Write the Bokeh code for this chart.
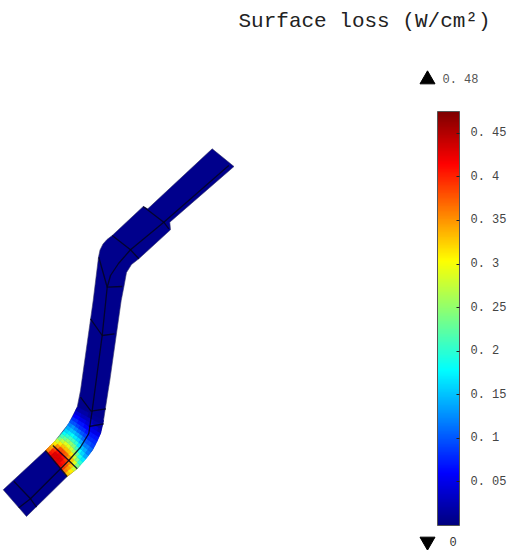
import numpy as np
from bokeh.embed import file_html
from bokeh.resources import INLINE
from bokeh.plotting import figure
from bokeh.models import ColorBar, LinearColorMapper, FixedTicker, ColumnDataSource, Range1d
from bokeh.core.properties import value
from bokeh.transform import transform

title_text = "Surface loss (W/cm\u00b2)"
tick_values = [0.05, 0.1, 0.15, 0.2, 0.25, 0.3, 0.35, 0.4, 0.45]
tick_labels = ["0. 05", "0. 1", "0. 15", "0. 2", "0. 25", "0. 3", "0. 35", "0. 4", "0. 45"]
scale_low = 0.0
scale_high = 0.475
max_label = "0. 48"
min_label = "0"

# Outline of the guide, in picture pixels
outline_x = [211.7, 233.5, 169.3, 170, 138.3, 131, 126, 123.3, 120.7, 109.3, 107.7, 103, 100, 91.7, 76.7, 66.7,
             26, 2.7, 45, 55, 68.3, 76.7, 80, 92.7, 98, 99.5, 102.5, 106.5, 111.7, 142.7, 147.3]
outline_y = [148.3, 166, 221.7, 229.3, 258.3, 264, 272, 286.7, 300, 380, 390, 420, 433, 450, 468, 476,
             516, 489.3, 450, 440, 423, 406.7, 390, 300, 256.7, 249.5, 243.5, 239, 235, 206, 208.3]

# Mesh edges inside the guide
mesh_x = [[228.3, 163.3, 130, 118, 110, 106.7, 101.7, 91.7, 88.3, 80, 68.3, 30, 18.3],
          [142.7, 163.3, 168.3], [111.7, 130, 138.3], [98.3, 106.7, 121.7], [90, 101.7, 114],
          [80, 90.5, 105.5], [88.3, 103.3], [52.3, 68.3, 76.7], [45, 66.7], [13.3, 30, 36]]
mesh_y = [[165, 221.7, 249.3, 263, 275, 286.7, 335, 410, 433, 446.7, 460, 498.3, 507.3],
          [206, 221.7, 228.3], [235, 249.3, 258.3], [256.7, 286.7, 286], [318.3, 335, 333.3],
          [396.7, 410.7, 408.3], [426, 423.3], [445, 460, 468.3], [450, 476], [480.7, 498.3, 506.7]]

# Heated band: its two edges, and the loss read across it, row by row
band_left_x = [45, 55, 63, 68.3, 73, 76.7]
band_left_y = [450, 440, 431, 423, 415, 406.7]
band_right_x = [66.7, 76.7, 85, 91.7, 96, 100, 103]
band_right_y = [476, 468, 459, 450, 442, 433, 420]
band_values = [
    [.36, .41, .43, .43, .43, .42, .39, .36, .33],
    [.35, .40, .43, .43, .43, .41, .38, .35, .31],
    [.33, .38, .41, .42, .41, .39, .36, .33, .28],
    [.31, .35, .38, .38, .37, .35, .33, .29, .24],
    [.28, .31, .33, .33, .33, .31, .28, .24, .20],
    [.24, .27, .29, .29, .28, .26, .23, .19, .17],
    [.21, .23, .25, .25, .24, .21, .18, .16, .14],
    [.18, .20, .21, .21, .20, .17, .15, .14, .12],
    [.16, .17, .18, .17, .16, .14, .12, .12, .11],
    [.14, .15, .15, .14, .13, .11, .10, .10, .09],
    [.12, .13, .12, .11, .10, .09, .08, .08, .08],
    [.10, .10, .09, .08, .08, .07, .07, .07, .07],
    [.08, .08, .07, .07, .06, .06, .05, .05, .05],
    [.06, .06, .05, .05, .04, .04, .04, .04, .03],
    [.04, .04, .03, .03, .03, .03, .02, .02, .02],
    [.02, .02, .02, .02, .01, .01, .01, .01, .01],
]

jet_pos = [0, 0.11, 0.125, 0.375, 0.64, 0.875, 1.0]
jet_r = [0, 0, 0, 0, 255, 255, 128]
jet_g = [0, 0, 0, 255, 255, 0, 0]
jet_b = [128, 240, 255, 255, 0, 0, 0]
u = np.linspace(0, 1, 256)
palette = ["#%02x%02x%02x" % (int(r), int(g), int(b)) for r, g, b in zip(
    np.interp(u, jet_pos, jet_r), np.interp(u, jet_pos, jet_g), np.interp(u, jet_pos, jet_b))]
mapper = LinearColorMapper(palette=palette, low=scale_low, high=scale_high)


def along(xs, ys, n):
    d = np.r_[0, np.cumsum(np.hypot(np.diff(xs), np.diff(ys)))]
    q = np.linspace(0, d[-1], n)
    return np.interp(q, d, xs), np.interp(q, d, ys)


W, H = 512, 550
p = figure(width=W, height=H, output_backend="svg", toolbar_location=None,
           x_range=Range1d(0, W), y_range=Range1d(H, 0), min_border=0)
p.axis.visible = False
p.grid.visible = False
p.outline_line_color = None

p.patch(outline_x, outline_y, fill_color="#00008c", line_color="#3a3a6a", line_width=1, line_alpha=0.6)

vals = np.array(band_values)
nr, nc = vals.shape
lx, ly = along(band_left_x, band_left_y, nr + 1)
rx, ry = along(band_right_x, band_right_y, nr + 1)
xs, ys, vs = [], [], []
for i in range(nr):
    for j in range(nc):
        a, b = j / nc, (j + 1) / nc
        xs.append([lx[i] + a * (rx[i] - lx[i]), lx[i] + b * (rx[i] - lx[i]),
                   lx[i + 1] + b * (rx[i + 1] - lx[i + 1]), lx[i + 1] + a * (rx[i + 1] - lx[i + 1])])
        ys.append([ly[i] + a * (ry[i] - ly[i]), ly[i] + b * (ry[i] - ly[i]),
                   ly[i + 1] + b * (ry[i + 1] - ly[i + 1]), ly[i + 1] + a * (ry[i + 1] - ly[i + 1])])
        vs.append(float(vals[i, j]))
src = ColumnDataSource(dict(xs=xs, ys=ys, v=vs))
p.patches("xs", "ys", source=src, fill_color=transform("v", mapper),
          line_color=transform("v", mapper), line_width=0.6)

p.multi_line(mesh_x, mesh_y, line_color="#03031f", line_width=1.3, line_alpha=0.85)

bar = ColorBar(color_mapper=mapper, width=22, height=414, location=(437, 25), padding=0,
               ticker=FixedTicker(ticks=tick_values),
               major_label_overrides=dict(zip(tick_values, tick_labels)),
               major_label_text_font="Liberation Mono", major_label_text_font_size="12px",
               major_label_text_color="#444444", label_standoff=11,
               major_tick_line_color="#222222", major_tick_in=3, major_tick_line_width=1,
               minor_tick_line_color=None, bar_line_color="#555555", bar_line_width=1,
               background_fill_color=None, border_line_color=None)
p.add_layout(bar, "center")

p.scatter([427], [79], marker="triangle", size=15, color="black")
p.scatter([427], [541], marker="inverted_triangle", size=15, color="black")
p.text([442], [79], text=[max_label], text_font=value("Liberation Mono"), text_font_size="12px",
       text_color="#555555", text_baseline="middle")
p.text([449], [541], text=[min_label], text_font=value("Liberation Mono"), text_font_size="12px",
       text_color="#333333", text_baseline="middle")
p.text([238], [21], text=[title_text], text_font=value("Liberation Mono"), text_font_size="21px",
       text_color="#222222", text_baseline="middle")

open("out.html", "w").write(file_html(p, INLINE))
